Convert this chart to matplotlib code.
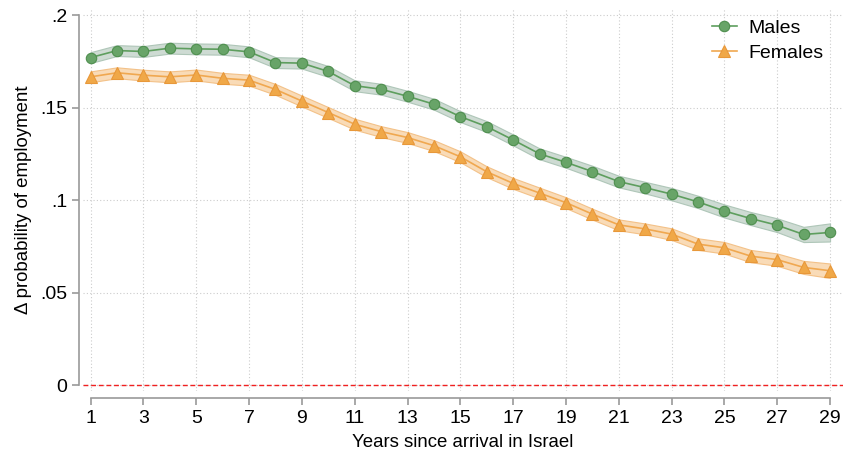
"""
Employment gap by years since arrival, males vs. females.
"""

import matplotlib.pyplot as plt
import numpy as np

plt.rcParams["font.family"] = ["Liberation Sans", "DejaVu Sans"]

years = list(range(1, 30))

males = [0.1772, 0.1810, 0.1805, 0.1823, 0.1819, 0.1817, 0.1803, 0.1745, 0.1742, 0.1697,
         0.1620, 0.1601, 0.1563, 0.1520, 0.1453, 0.1399, 0.1327, 0.1252, 0.1206, 0.1156,
         0.1102, 0.1069, 0.1034, 0.0992, 0.0943, 0.0902, 0.0866, 0.0816, 0.0827]
males_se = [0.0015, 0.0015, 0.0015, 0.0015, 0.0015, 0.0015, 0.0015, 0.0015, 0.0015, 0.0015,
            0.0015, 0.0015, 0.0015, 0.0015, 0.0015, 0.0015, 0.0015, 0.0015, 0.0015, 0.0016,
            0.0016, 0.0016, 0.0017, 0.0017, 0.0018, 0.0018, 0.0019, 0.0021, 0.0025]

females = [0.1668, 0.1690, 0.1677, 0.1668, 0.1678, 0.1660, 0.1650, 0.1600, 0.1537, 0.1475,
           0.1412, 0.1372, 0.1340, 0.1296, 0.1236, 0.1155, 0.1092, 0.1040, 0.0988, 0.0926,
           0.0868, 0.0846, 0.0818, 0.0764, 0.0744, 0.0699, 0.0680, 0.0638, 0.0620]
females_se = [0.0015, 0.0015, 0.0015, 0.0015, 0.0015, 0.0015, 0.0015, 0.0015, 0.0015, 0.0015,
              0.0015, 0.0015, 0.0015, 0.0015, 0.0015, 0.0015, 0.0015, 0.0015, 0.0015, 0.0015,
              0.0015, 0.0015, 0.0016, 0.0016, 0.0016, 0.0017, 0.0017, 0.0018, 0.0020]

fig = plt.figure(figsize=(8.45, 4.57), dpi=100)
ax = fig.add_axes([0.0982, 0.1444, 0.8994, 0.8381])

m = np.array(males)
ms = np.array(males_se)
f = np.array(females)
fs = np.array(females_se)

# CI bands
ax.fill_between(years, m - 1.96 * ms, m + 1.96 * ms, color="#c9d8cf", alpha=0.9,
                edgecolor="#a9c2b3", linewidth=0.8, zorder=2)
ax.fill_between(years, f - 1.96 * fs, f + 1.96 * fs, color="#f9d8b0", alpha=0.9,
                edgecolor="#f2bd80", linewidth=0.8, zorder=2)

ax.plot(years, males, color="#5e9e5e", marker="o", markersize=7.5,
        markerfacecolor="#68a468", markeredgecolor="#4f8f4f", markeredgewidth=0.8,
        linewidth=1.2, label="Males", zorder=4)
ax.plot(years, females, color="#f0a850", marker="^", markersize=8,
        markerfacecolor="#f0a848", markeredgecolor="#e8983a", markeredgewidth=0.8,
        linewidth=1.2, label="Females", zorder=4)

ax.axhline(0, color="#f02020", linestyle=(0, (3.5, 2)), linewidth=1.0, zorder=3)

ax.set_xlim(0.71, 29.49)
ax.set_ylim(-0.003, 0.204)
ax.set_xticks(range(1, 30, 2))
ax.set_yticks([0, 0.05, 0.1, 0.15, 0.2])
ax.set_yticklabels(["0", ".05", ".1", ".15", ".2"])

ax.grid(True, color="#cccccc", linestyle=(0, (1, 2)), linewidth=0.8, zorder=0)

for side in ["top", "right"]:
    ax.spines[side].set_visible(False)
ax.spines["left"].set_position(("outward", 3))
ax.spines["bottom"].set_position(("outward", 5))
ax.spines["left"].set_bounds(0, 0.2)
ax.spines["bottom"].set_bounds(1, 29)
for side in ["left", "bottom"]:
    ax.spines[side].set_color("#999999")
    ax.spines[side].set_linewidth(1.2)
ax.tick_params(axis="both", colors="#999999", labelcolor="black", labelsize=14,
               length=5, width=1.2)

ax.set_xlabel("Years since arrival in Israel", fontsize=13.4, labelpad=5)
ax.set_ylabel("Δ probability of employment", fontsize=13.4, labelpad=6)

ax.legend(loc="upper right", frameon=False, fontsize=14, handlelength=1.3,
          handletextpad=0.6, borderaxespad=0.2, labelspacing=0.35,
          bbox_to_anchor=(0.99, 1.0))

plt.savefig("out.png", dpi=100)
plt.close()
